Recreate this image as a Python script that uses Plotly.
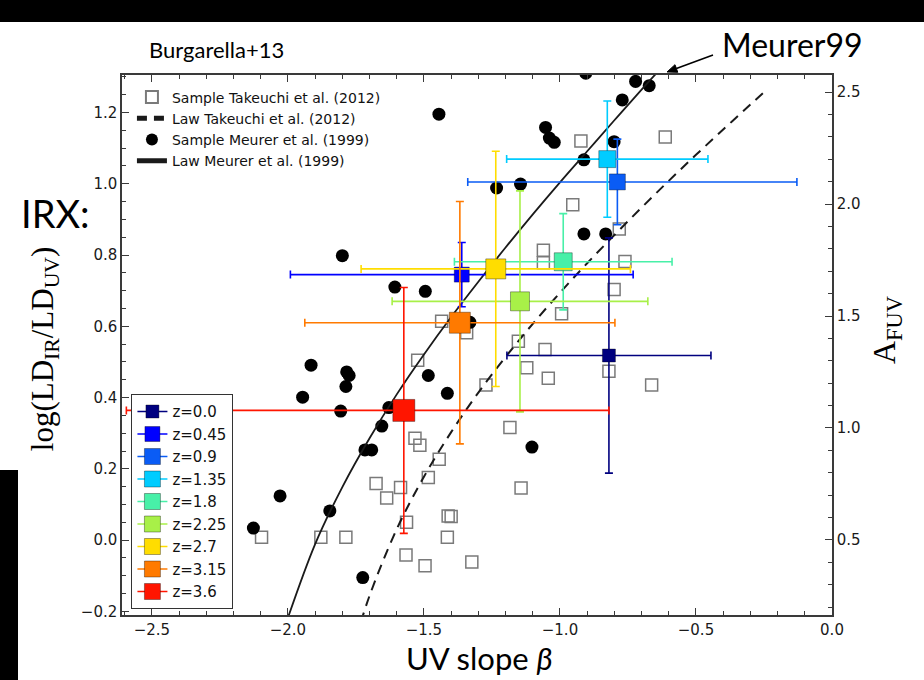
import plotly.graph_objects as go

# ---------------- data ----------------
# Takeuchi et al. (2012) sample (UV slope beta, IRX)
tak_beta = [-0.923, -0.613, -0.953, -0.782, -1.061, -1.061, -0.761, -0.801, -0.994, -1.153,
            -1.343, -1.435, -1.055, -1.122, -1.043, -0.820, -0.663, -1.272, -1.184, -1.143,
            -1.324, -1.523, -1.533, -1.515, -1.444, -1.484, -1.676, -1.586, -1.637, -1.564,
            -1.411, -1.400, -1.414, -2.097, -1.879, -1.787, -1.566, -1.496]
tak_irx = [1.120, 1.131, 0.941, 0.873, 0.813, 0.778, 0.782, 0.703, 0.635, 0.558,
           0.582, 0.614, 0.535, 0.484, 0.454, 0.474, 0.435, 0.435, 0.316, 0.146,
           -0.061, 0.505, 0.286, 0.266, 0.227, 0.176, 0.159, 0.148, 0.118, 0.050,
           0.068, 0.066, 0.008, 0.008, 0.008, 0.008, -0.042, -0.072]

# Meurer et al. (1999) sample
meu_beta = [-1.445, -1.800, -1.607, -1.495, -0.905, -0.722, -0.672, -0.771, -1.053, -1.039,
            -1.021, -0.801, -0.912, -1.233, -1.145, -0.912, -0.832, -1.331, -1.915, -1.784,
            -1.775, -1.787, -1.946, -1.806, -1.629, -1.484, -1.414, -1.655, -1.717, -1.692,
            -2.029, -1.846, -2.127, -1.725, -1.103]
meu_irx = [1.195, 0.798, 0.710, 0.698, 1.310, 1.287, 1.275, 1.235, 1.158, 1.128,
           1.116, 1.118, 1.067, 0.988, 0.999, 0.859, 0.859, 0.611, 0.491, 0.472,
           0.462, 0.431, 0.401, 0.362, 0.372, 0.462, 0.412, 0.320, 0.253, 0.253,
           0.124, 0.082, 0.034, -0.105, 0.261]

# Law curves
law_tak_beta = [-1.75, -1.7, -1.6, -1.5, -1.4, -1.3, -1.2, -1.1, -1.0, -0.9, -0.8, -0.7,
                -0.6, -0.5, -0.4, -0.3, -0.25]
law_tak_irx = [-0.276, -0.156, 0.031, 0.178, 0.303, 0.414, 0.514, 0.607, 0.694, 0.777,
               0.856, 0.933, 1.008, 1.081, 1.152, 1.222, 1.257]
law_meu_beta = [-2.02, -1.9, -1.8, -1.7, -1.6, -1.5, -1.4, -1.3, -1.2, -1.1, -1.0, -0.9,
                -0.8, -0.7, -0.6]
law_meu_irx = [-0.262, -0.011, 0.149, 0.286, 0.409, 0.521, 0.626, 0.725, 0.821, 0.914,
               1.004, 1.091, 1.178, 1.264, 1.348]

# Burgarella+13 redshift bins
z_labels = ["z=0.0", "z=0.45", "z=0.9", "z=1.35", "z=1.8", "z=2.25", "z=2.7", "z=3.15", "z=3.6"]
z_beta = [-0.820, -1.361, -0.789, -0.826, -0.988, -1.147, -1.236, -1.368, -1.574]
z_irx = [0.518, 0.745, 1.005, 1.069, 0.781, 0.670, 0.761, 0.610, 0.364]
z_beta_err_minus = [0.375, 0.63, 0.55, 0.37, 0.40, 0.47, 0.495, 0.57, 1.02]
z_beta_err_plus = [0.375, 0.63, 0.66, 0.37, 0.40, 0.47, 0.495, 0.57, 0.754]
z_irx_err = [0.33, 0.09, 0.12, 0.163, 0.135, 0.31, 0.33, 0.34, 0.345]
z_colors = ["#00007f", "#0000ff", "#0a5cf5", "#00ccff", "#48f0a8", "#a8f048",
            "#ffdd00", "#ff7a00", "#ff1500"]
z_sizes = [13, 15, 16, 17, 18, 19, 20, 21, 22]

x_ticks = [-2.5, -2.0, -1.5, -1.0, -0.5, 0.0]
y_ticks = [-0.2, 0.0, 0.2, 0.4, 0.6, 0.8, 1.0, 1.2]
a_ticks = [0.5, 1.0, 1.5, 2.0, 2.5]

# ---------------- figure ----------------
fig = go.Figure()

fig.add_trace(go.Scatter(
    x=tak_beta, y=tak_irx, mode="markers", name="Sample Takeuchi et al. (2012)",
    marker=dict(symbol="square-open", size=12, color="#7a7a7a", line=dict(width=1.5)),
    legend="legend", legendrank=1))
fig.add_trace(go.Scatter(
    x=law_tak_beta, y=law_tak_irx, mode="lines", name="Law Takeuchi et al. (2012)",
    line=dict(color="#1a1a1a", width=2, dash="10px,7px", shape="spline"),
    legend="legend", legendrank=2))
fig.add_trace(go.Scatter(
    x=meu_beta, y=meu_irx, mode="markers", name="Sample Meurer et al. (1999)",
    marker=dict(symbol="circle", size=13, color="black"),
    legend="legend", legendrank=3))
fig.add_trace(go.Scatter(
    x=law_meu_beta, y=law_meu_irx, mode="lines", name="Law Meurer et al. (1999)",
    line=dict(color="#1a1a1a", width=1.8, shape="spline"),
    legend="legend", legendrank=4))

for i, lab in enumerate(z_labels):
    c = z_colors[i]
    fig.add_trace(go.Scatter(
        x=[z_beta[i]], y=[z_irx[i]], mode="lines+markers", name=lab,
        line=dict(color=c, width=1.5),
        marker=dict(symbol="square", size=z_sizes[i], color=c,
                    line=dict(color="rgba(0,0,0,0.35)", width=1)),
        error_x=dict(type="data", symmetric=False, array=[z_beta_err_plus[i]],
                     arrayminus=[z_beta_err_minus[i]], color=c, thickness=1.6, width=4),
        error_y=dict(type="data", array=[z_irx_err[i]], color=c, thickness=1.6, width=4),
        legend="legend2", legendrank=10 + i))

# invisible carrier for the A_FUV axis
fig.add_trace(go.Scatter(x=[x_ticks[0]], y=[a_ticks[0]], yaxis="y2", mode="markers",
                         marker=dict(opacity=0), showlegend=False, hoverinfo="skip"))

tickfont = dict(family="DejaVu Sans", size=15, color="#1a1a1a")
axcol = "#3a3a3a"

fig.update_layout(
    width=924, height=680,
    margin=dict(l=122, r=92, t=75, b=65),
    paper_bgcolor="white", plot_bgcolor="white",
    showlegend=True,
    xaxis=dict(range=[-2.61, 0.0], tickvals=x_ticks, tickformat=".1f",
               ticks="inside", ticklen=7, tickwidth=1.2, tickcolor=axcol,
               showline=True, linecolor=axcol, linewidth=1.5, mirror="ticks",
               showgrid=False, zeroline=False, tickfont=tickfont,
               minor=dict(dtick=0.1, tick0=0, ticks="inside", ticklen=4, tickcolor=axcol)),
    yaxis=dict(range=[-0.21, 1.305], tickvals=y_ticks, tickformat=".1f",
               ticks="inside", ticklen=7, tickwidth=1.2, tickcolor=axcol,
               showline=True, linecolor=axcol, linewidth=1.5, mirror=False,
               showgrid=False, zeroline=False, tickfont=tickfont,
               minor=dict(dtick=0.05, tick0=0, ticks="inside", ticklen=4, tickcolor=axcol)),
    yaxis2=dict(overlaying="y", side="right", range=[0.165, 2.576], tickvals=a_ticks,
                tickformat=".1f", ticks="inside", ticklen=7, tickwidth=1.2, tickcolor=axcol,
                showline=True, linecolor=axcol, linewidth=1.5,
                showgrid=False, zeroline=False, tickfont=tickfont,
                minor=dict(dtick=0.1, tick0=0, ticks="inside", ticklen=4, tickcolor=axcol)),
    legend=dict(x=0.014, y=0.988, xanchor="left", yanchor="top", bgcolor="rgba(0,0,0,0)",
                borderwidth=0, font=dict(family="DejaVu Sans", size=14, color="#111"),
                tracegroupgap=0, itemsizing="constant"),
    legend2=dict(x=0.013, y=0.011, xanchor="left", yanchor="bottom", bgcolor="white",
                 bordercolor="#333", borderwidth=1.2,
                 font=dict(family="DejaVu Sans", size=15, color="#111"),
                 tracegroupgap=0, itemsizing="trace"),
)

ann_font = "Lato"
fig.add_annotation(text="UV slope <i>β</i>", xref="paper", yref="paper", x=0.504, y=-0.080,
                   showarrow=False, font=dict(family=ann_font, size=31, color="black"),
                   xanchor="center", yanchor="middle")
fig.add_annotation(text="log(LD<sub>IR</sub>/LD<sub>UV</sub>)", xref="paper", yref="paper",
                   x=-0.1085, y=0.494, showarrow=False, textangle=-90,
                   font=dict(family="Liberation Serif", size=31, color="black"),
                   xanchor="center", yanchor="middle")
fig.add_annotation(text="A<sub>FUV</sub>", xref="paper", yref="paper", x=1.0775, y=0.5278,
                   showarrow=False, textangle=-90,
                   font=dict(family="Liberation Serif", size=32, color="black"),
                   xanchor="center", yanchor="middle")
fig.add_annotation(text="Burgarella+13", xref="paper", yref="paper", x=0.1338, y=1.0463,
                   showarrow=False, font=dict(family=ann_font, size=22, color="black"),
                   xanchor="center", yanchor="middle")
fig.add_annotation(text="Meurer99", xref="paper", yref="paper", x=0.9437, y=1.0556,
                   showarrow=False, font=dict(family=ann_font, size=32, color="black"),
                   xanchor="center", yanchor="middle")
fig.add_annotation(text="IRX:", xref="paper", yref="paper", x=-0.093, y=0.7444,
                   showarrow=False, font=dict(family=ann_font, size=38, color="black"),
                   xanchor="center", yanchor="middle")


def px(xp):
    return (xp - 122) / 710


def py(yp):
    return (615 - yp) / 540


# pointer arrow (line + head) from "Meurer99" to the top of the Meurer law
fig.add_shape(type="line", xref="paper", yref="paper", x0=px(713), y0=py(55),
              x1=px(676.4), y1=py(68.5), line=dict(color="black", width=1.6))
fig.add_shape(type="path", xref="paper", yref="paper",
              path="M {:.5f},{:.5f} L {:.5f},{:.5f} L {:.5f},{:.5f} Z".format(
                  px(667), py(72), px(677.8), py(72.3), px(675.0), py(64.7)),
              fillcolor="black", line=dict(color="black", width=1))

# black bands of the slide
fig.add_shape(type="rect", xref="paper", yref="paper", x0=px(0), x1=px(924),
              y0=py(22), y1=py(0), fillcolor="black", line=dict(width=0), layer="above")
fig.add_shape(type="rect", xref="paper", yref="paper", x0=px(0), x1=px(18),
              y0=py(680), y1=py(470), fillcolor="black", line=dict(width=0), layer="above")

fig.write_html("out.html")
